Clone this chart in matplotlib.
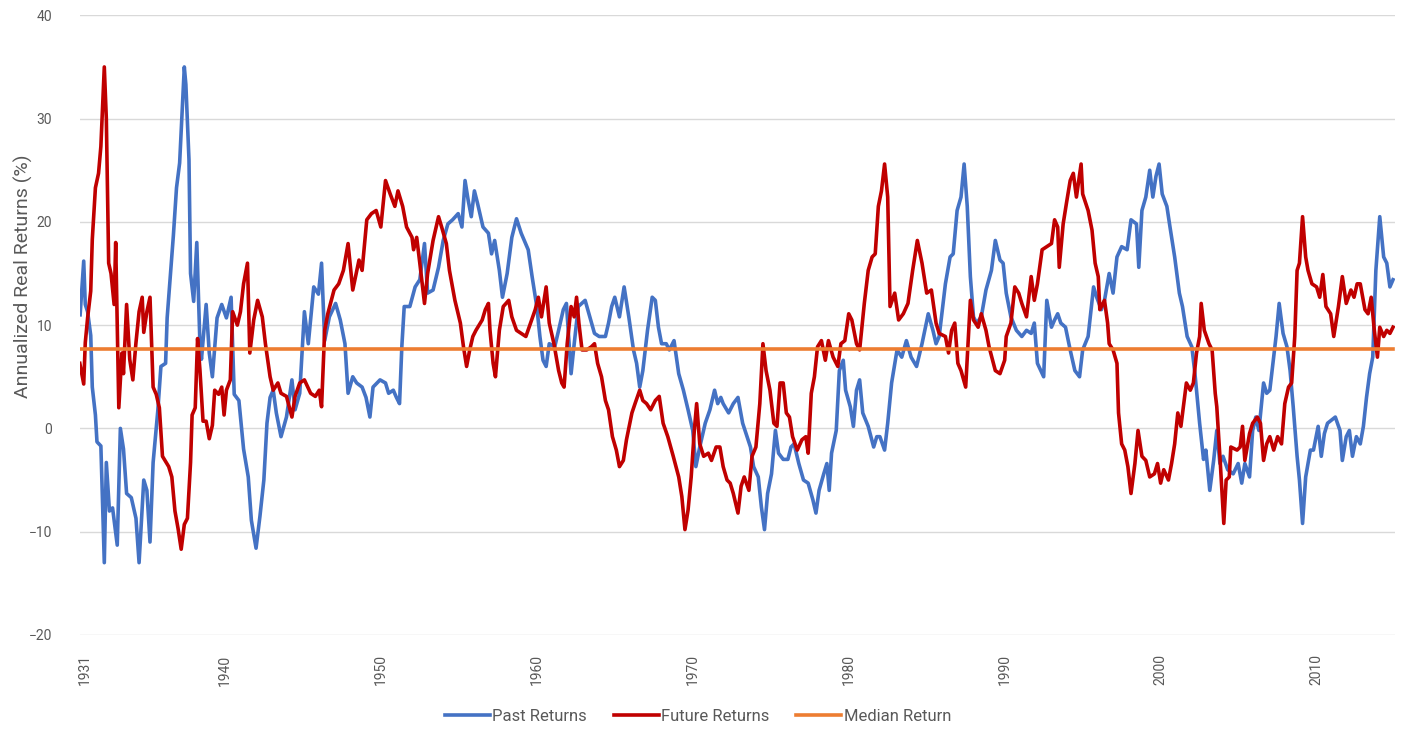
import matplotlib
matplotlib.use("Agg")
import matplotlib.pyplot as plt

plt.rcParams['font.family'] = ['Roboto', 'DejaVu Sans']

# past (trailing) annualized real returns
past_years = [
    1930.72, 1930.95, 1931.05, 1931.2, 1931.4, 1931.5, 1931.7, 1931.8, 1932.05, 1932.27,
    1932.4, 1932.6, 1932.8, 1933.1, 1933.3, 1933.5, 1933.7, 1934.0, 1934.3, 1934.5,
    1934.8, 1935.0, 1935.2, 1935.4, 1935.7, 1935.9, 1936.2, 1936.3, 1936.7, 1936.9,
    1937.1, 1937.4, 1937.5, 1937.7, 1937.8, 1938.0, 1938.2, 1938.4, 1938.5, 1938.8,
    1939.0, 1939.2, 1939.5, 1939.8, 1940.1, 1940.4, 1940.6, 1940.9, 1941.2, 1941.5,
    1941.7, 1942.0, 1942.25, 1942.5, 1942.7, 1942.9, 1943.1, 1943.3, 1943.6, 1943.95,
    1944.3, 1944.5, 1944.8, 1945.1, 1945.35, 1945.7, 1946.0, 1946.2, 1946.4, 1946.7,
    1947.1, 1947.4, 1947.7, 1947.9, 1948.2, 1948.45, 1948.8, 1949.05, 1949.3, 1949.5,
    1949.95, 1950.3, 1950.5, 1950.8, 1951.0, 1951.2, 1951.35, 1951.5, 1951.86, 1952.2,
    1952.5, 1952.8, 1953.0, 1953.35, 1953.7, 1954.0, 1954.3, 1954.6, 1954.96, 1955.2,
    1955.4, 1955.6, 1955.8, 1956.0, 1956.2, 1956.55, 1956.9, 1957.1, 1957.3, 1957.6,
    1957.8, 1958.1, 1958.4, 1958.7, 1959.0, 1959.45, 1959.7, 1960.0, 1960.2, 1960.4,
    1960.6, 1960.8, 1961.15, 1961.4, 1961.7, 1961.9, 1962.2, 1962.4, 1962.66, 1963.1,
    1963.4, 1963.7, 1964.0, 1964.4, 1964.6, 1964.8, 1965.0, 1965.3, 1965.6, 1965.9,
    1966.2, 1966.4, 1966.6, 1966.8, 1967.1, 1967.4, 1967.6, 1967.8, 1968.0, 1968.3,
    1968.5, 1968.8, 1969.1, 1969.4, 1969.7, 1970.0, 1970.2, 1970.45, 1970.8, 1971.1,
    1971.4, 1971.6, 1971.8, 1971.95, 1972.3, 1972.6, 1972.9, 1973.2, 1973.7, 1973.9,
    1974.2, 1974.4, 1974.6, 1974.8, 1975.05, 1975.3, 1975.5, 1975.8, 1976.1, 1976.3,
    1976.5, 1976.8, 1977.1, 1977.4, 1977.7, 1977.9, 1978.1, 1978.4, 1978.6, 1978.75,
    1978.9, 1979.2, 1979.4, 1979.65, 1979.8, 1980.1, 1980.3, 1980.5, 1980.7, 1980.9,
    1981.25, 1981.6, 1981.8, 1982.0, 1982.3, 1982.5, 1982.75, 1983.1, 1983.4, 1983.7,
    1984.0, 1984.35, 1984.7, 1985.1, 1985.4, 1985.6, 1985.8, 1986.2, 1986.5, 1986.7,
    1986.95, 1987.2, 1987.4, 1987.6, 1987.8, 1988.0, 1988.2, 1988.5, 1988.8, 1989.15,
    1989.4, 1989.7, 1989.9, 1990.1, 1990.4, 1990.75, 1991.1, 1991.4, 1991.7, 1991.9,
    1992.1, 1992.5, 1992.7, 1993.0, 1993.2, 1993.4, 1993.6, 1993.9, 1994.2, 1994.5,
    1994.8, 1995.0, 1995.35, 1995.7, 1995.9, 1996.2, 1996.4, 1996.7, 1996.95, 1997.2,
    1997.5, 1997.85, 1998.1, 1998.45, 1998.6, 1998.8, 1999.05, 1999.3, 1999.5, 1999.7,
    1999.9, 2000.1, 2000.4, 2000.6, 2000.9, 2001.2, 2001.4, 2001.7, 2002.0, 2002.2,
    2002.5, 2002.75, 2002.9, 2003.15, 2003.4, 2003.6, 2003.8, 2004.0, 2004.3, 2004.65,
    2004.97, 2005.2, 2005.4, 2005.7, 2005.9, 2006.1, 2006.3, 2006.6, 2006.8, 2007.0,
    2007.2, 2007.4, 2007.6, 2007.85, 2008.1, 2008.3, 2008.5, 2008.75, 2008.9, 2009.1,
    2009.3, 2009.6, 2009.8, 2010.1, 2010.3, 2010.5, 2010.7, 2010.95, 2011.2, 2011.5,
    2011.65, 2011.9, 2012.1, 2012.3, 2012.55, 2012.8, 2013.0, 2013.2, 2013.4, 2013.6,
    2013.8, 2014.05, 2014.3, 2014.5, 2014.7, 2014.9,
]
past_returns = [
    11, 16.2, 12, 11.3, 9, 4, 1.3, -1.3, -1.7, -13,
    -3.3, -8, -7.7, -11.3, 0, -2, -6.3, -6.7, -8.7, -13,
    -5, -6, -11, -3.3, 1.7, 6, 6.3, 10.7, 18.7, 23.3,
    25.7, 35, 33.3, 26, 15, 12.3, 18, 8.3, 6.7, 12,
    7.3, 5, 10.7, 12, 10.7, 12.7, 3.3, 2.7, -2, -4.7,
    -8.9, -11.6, -8.5, -5, 0.5, 3, 3.7, 1.5, -0.8, 1.1,
    4.7, 1.8, 3.4, 11.3, 8.2, 13.7, 13, 16, 8.5, 10.8,
    12.1, 10.5, 8.2, 3.4, 5, 4.4, 4, 3, 1.1, 4,
    4.7, 4.4, 3.4, 3.7, 3, 2.4, 8, 11.8, 11.8, 13.7,
    14.4, 17.9, 13.1, 13.4, 15.6, 18.2, 19.8, 20.2, 20.8, 19.5,
    24, 22.1, 20.5, 23, 21.8, 19.5, 18.9, 16.9, 18.2, 15.3,
    12.7, 15, 18.5, 20.3, 18.9, 17.3, 14.7, 11.8, 8.9, 6.6,
    6, 8.2, 7.9, 9.5, 11.5, 12.1, 5.3, 8.2, 11.8, 12.4,
    10.8, 9.2, 8.9, 8.9, 10.2, 11.8, 12.7, 10.8, 13.7, 10.8,
    7.6, 6.3, 4, 5.6, 9.5, 12.7, 12.4, 9.8, 8.2, 8.2,
    7.6, 8.5, 5.3, 3.7, 1.8, -0.2, -3.7, -1.8, 0.5, 1.8,
    3.7, 2.4, 3.0, 2.4, 1.5, 2.4, 3, 0.5, -1.8, -3.7,
    -4.7, -7.6, -9.8, -6.3, -4.4, -0.2, -2.4, -3, -3, -1.8,
    -1.5, -3.4, -5, -5.3, -6.9, -8.2, -6, -4.4, -3.4, -6,
    -2.4, -0.2, 5.6, 6.6, 3.7, 2.1, 0.2, 3.7, 4.7, 1.5,
    0.2, -1.8, -0.8, -0.8, -2.1, 0.5, 4.4, 7.6, 6.9, 8.5,
    6.9, 6, 8.2, 11.1, 9.5, 8.2, 8.9, 14, 16.6, 16.9,
    21.1, 22.4, 25.6, 21.5, 14.7, 10.8, 10.2, 10.8, 13.4, 15.3,
    18.2, 16.3, 16, 13.1, 10.8, 9.5, 8.9, 9.5, 9.2, 10.2,
    6.3, 5, 12.4, 9.8, 10.5, 11.1, 10.2, 9.8, 7.6, 5.6,
    5, 7.6, 8.9, 13.7, 12.7, 11.5, 12.4, 15, 13.1, 16.6,
    17.6, 17.3, 20.2, 19.8, 15.6, 21.1, 22.4, 25, 22.4, 24.4,
    25.6, 22.7, 21.5, 19.5, 16.6, 13.1, 11.8, 8.9, 7.9, 5.3,
    0.5, -3.0, -2.1, -6, -3.1, -0.2, -3.4, -2.7, -4, -4.4,
    -3.4, -5.3, -3.4, -4.7, -0.2, 1.1, -0.2, 4.4, 3.4, 3.7,
    6.3, 8.9, 12.1, 9.2, 7.9, 5.6, 2.1, -2.7, -5, -9.2,
    -4.7, -2.1, -2.1, 0.2, -2.7, -0.5, 0.5, 0.8, 1.1, -0.2,
    -3.1, -0.8, -0.2, -2.7, -0.8, -1.5, 0.2, 3, 5.3, 6.9,
    15.3, 20.5, 16.6, 16, 13.7, 14.4,
]

# future (forward) annualized real returns
future_years = [
    1930.7, 1930.95, 1931.05, 1931.2, 1931.4, 1931.5, 1931.7, 1931.9, 1932.05, 1932.27,
    1932.4, 1932.55, 1932.7, 1932.9, 1933.0, 1933.2, 1933.4, 1933.5, 1933.7, 1933.9,
    1934.1, 1934.3, 1934.5, 1934.7, 1934.8, 1935.0, 1935.2, 1935.4, 1935.6, 1935.8,
    1936.0, 1936.4, 1936.6, 1936.8, 1937.0, 1937.2, 1937.4, 1937.6, 1937.8, 1937.9,
    1938.1, 1938.25, 1938.4, 1938.6, 1938.8, 1939.0, 1939.2, 1939.35, 1939.6, 1939.8,
    1939.95, 1940.1, 1940.35, 1940.5, 1940.8, 1941.0, 1941.2, 1941.45, 1941.6, 1941.85,
    1942.1, 1942.4, 1942.6, 1942.9, 1943.1, 1943.4, 1943.6, 1943.95, 1944.3, 1944.5,
    1944.8, 1945.1, 1945.5, 1945.8, 1946.05, 1946.2, 1946.4, 1946.6, 1947.0, 1947.3,
    1947.6, 1947.9, 1948.2, 1948.6, 1948.8, 1949.1, 1949.4, 1949.7, 1950.0, 1950.3,
    1950.6, 1950.9, 1951.1, 1951.4, 1951.65, 1952.0, 1952.1, 1952.3, 1952.5, 1952.8,
    1953.0, 1953.35, 1953.7, 1953.9, 1954.2, 1954.4, 1954.75, 1955.1, 1955.3, 1955.5,
    1955.7, 1955.9, 1956.1, 1956.5, 1956.7, 1956.9, 1957.0, 1957.2, 1957.35, 1957.6,
    1957.85, 1958.2, 1958.4, 1958.7, 1959.0, 1959.3, 1959.6, 1959.9, 1960.1, 1960.3,
    1960.6, 1960.8, 1961.1, 1961.4, 1961.6, 1961.75, 1961.95, 1962.2, 1962.4, 1962.55,
    1962.7, 1962.9, 1963.2, 1963.5, 1963.7, 1963.9, 1964.15, 1964.4, 1964.6, 1964.85,
    1965.1, 1965.3, 1965.55, 1965.75, 1966.1, 1966.3, 1966.6, 1966.8, 1967.04, 1967.3,
    1967.6, 1967.85, 1968.1, 1968.4, 1968.75, 1969.1, 1969.3, 1969.5, 1969.7, 1969.9,
    1970.1, 1970.25, 1970.45, 1970.7, 1971.0, 1971.2, 1971.5, 1971.74, 1971.95, 1972.2,
    1972.4, 1972.6, 1972.9, 1973.1, 1973.3, 1973.6, 1973.8, 1974.05, 1974.3, 1974.5,
    1974.7, 1974.95, 1975.2, 1975.4, 1975.6, 1975.8, 1976.0, 1976.2, 1976.4, 1976.7,
    1977.0, 1977.25, 1977.4, 1977.6, 1977.8, 1978.0, 1978.25, 1978.5, 1978.7, 1979.0,
    1979.3, 1979.5, 1979.75, 1980.0, 1980.2, 1980.5, 1980.7, 1981.0, 1981.25, 1981.5,
    1981.7, 1981.9, 1982.1, 1982.3, 1982.5, 1982.65, 1982.95, 1983.2, 1983.5, 1983.8,
    1984.1, 1984.4, 1984.7, 1985.0, 1985.3, 1985.6, 1985.8, 1986.2, 1986.4, 1986.6,
    1986.8, 1987.0, 1987.2, 1987.5, 1987.65, 1987.8, 1988.0, 1988.3, 1988.5, 1988.8,
    1989.0, 1989.4, 1989.7, 1990.0, 1990.1, 1990.4, 1990.65, 1990.9, 1991.1, 1991.4,
    1991.7, 1991.9, 1992.1, 1992.4, 1992.7, 1993.0, 1993.2, 1993.4, 1993.5, 1993.75,
    1993.96, 1994.2, 1994.4, 1994.6, 1994.9, 1995.0, 1995.35, 1995.6, 1995.8, 1996.0,
    1996.1, 1996.4, 1996.6, 1996.7, 1996.95, 1997.2, 1997.3, 1997.5, 1997.7, 1997.9,
    1998.1, 1998.35, 1998.55, 1998.8, 1999.05, 1999.3, 1999.6, 1999.8, 2000.0, 2000.2,
    2000.5, 2000.7, 2000.9, 2001.1, 2001.3, 2001.65, 2001.9, 2002.1, 2002.3, 2002.5,
    2002.6, 2002.8, 2003.1, 2003.3, 2003.5, 2003.6, 2003.8, 2003.96, 2004.05, 2004.2,
    2004.4, 2004.5, 2004.9, 2005.1, 2005.25, 2005.4, 2005.7, 2005.9, 2006.2, 2006.4,
    2006.6, 2006.8, 2007.0, 2007.25, 2007.5, 2007.75, 2007.96, 2008.2, 2008.4, 2008.6,
    2008.75, 2008.9, 2009.1, 2009.3, 2009.45, 2009.7, 2010.0, 2010.2, 2010.4, 2010.6,
    2010.9, 2011.1, 2011.4, 2011.65, 2011.9, 2012.2, 2012.4, 2012.6, 2012.8, 2013.1,
    2013.3, 2013.5, 2013.7, 2013.9, 2014.05, 2014.3, 2014.5, 2014.7, 2014.9,
]
future_returns = [
    6.3, 4.3, 8.3, 10.7, 13.3, 18.3, 23.3, 24.7, 27.3, 35,
    30, 16, 15, 12, 18, 2, 7.3, 5.3, 12, 6.7,
    4.7, 8.3, 11.3, 12.7, 9.3, 11.3, 12.7, 4, 3.3, 2,
    -2.7, -3.7, -4.7, -8, -9.7, -11.7, -9.3, -8.7, -3.3, 1.3,
    2, 8.7, 5.7, 0.7, 0.7, -1, 0.3, 3.7, 3.3, 4,
    1.3, 3.7, 4.7, 11.3, 10, 11.3, 14, 16, 7.3, 10.5,
    12.4, 10.8, 8.2, 5, 3.7, 4.4, 3.4, 3.1, 1.1, 3.1,
    4.4, 4.7, 3.4, 3.1, 3.7, 2.1, 9.5, 11.1, 13.4, 14,
    15.3, 17.9, 13.4, 16.3, 15.3, 20.2, 20.8, 21.1, 19.5, 24,
    22.7, 21.5, 23, 21.5, 19.5, 18.5, 17.3, 18.5, 16, 12.1,
    15, 18.2, 20.5, 19.5, 17.9, 15.3, 12.4, 10.2, 7.9, 6,
    7.6, 8.9, 9.5, 10.5, 11.5, 12.1, 9.5, 6.3, 5, 9.5,
    11.8, 12.4, 10.8, 9.5, 9.2, 8.9, 10.2, 11.5, 12.7, 10.8,
    13.7, 10.2, 8.2, 5.6, 4.4, 4.0, 8.2, 11.8, 10.8, 12.7,
    10.2, 7.6, 7.6, 7.9, 8.2, 6.3, 5, 2.7, 1.8, -0.8,
    -2.1, -3.7, -3.1, -1.1, 1.5, 2.4, 3.7, 2.7, 2.4, 1.8,
    2.7, 3.1, 0.5, -0.8, -2.7, -4.7, -6.6, -9.8, -7.9, -4.7,
    -0.2, 2.4, -1.5, -2.7, -2.4, -3.1, -1.8, -1.8, -3.7, -5,
    -5.3, -6.3, -8.2, -5.6, -4.7, -6, -2.7, -1.8, 2.4, 8.2,
    5.6, 3.7, 0.5, 0.2, 4.4, 4.4, 1.5, 1.1, -0.8, -2.1,
    -1.1, -0.8, -2.4, 3.4, 5, 7.9, 8.5, 6.6, 8.5, 6.9,
    6, 8.2, 8.5, 11.1, 10.5, 8.2, 7.6, 12.1, 15.3, 16.6,
    16.9, 21.5, 23, 25.6, 22.4, 11.8, 13.1, 10.5, 11.1, 12.1,
    15.3, 18.2, 16, 13.1, 13.4, 10.2, 9.2, 8.9, 7.3, 9.5,
    10.2, 6.3, 5.6, 4, 8.2, 12.4, 10.5, 9.8, 11.1, 9.5,
    7.9, 5.6, 5.3, 6.6, 8.9, 10.2, 13.7, 13.1, 12.1, 10.8,
    14.7, 12.4, 14, 17.3, 17.6, 17.9, 20.2, 19.5, 15.6, 19.8,
    21.8, 24, 24.7, 22.4, 25.6, 22.7, 21.1, 19.2, 16, 14.7,
    11.5, 12.4, 10.2, 8.2, 7.6, 6.3, 1.5, -1.5, -2.1, -3.7,
    -6.3, -3.4, -0.2, -2.7, -3.1, -4.7, -4.4, -3.4, -5.3, -4,
    -5, -3.4, -1.5, 1.5, 0.2, 4.4, 3.7, 4.4, 7.3, 8.9,
    12.1, 9.5, 8.2, 7.6, 3.4, 2.1, -2.7, -6.9, -9.2, -5,
    -4.7, -1.8, -2.1, -1.8, 0.2, -3.1, -0.5, 0.5, 1.1, 0.5,
    -3.1, -1.5, -0.8, -2.1, -0.8, -1.5, 2.4, 4, 4.4, 8.9,
    15.3, 16, 20.5, 16.6, 15.3, 14, 13.7, 12.7, 14.9, 11.8,
    11.1, 8.9, 11.8, 14.7, 12.1, 13.4, 12.7, 14, 14, 11.5,
    11.1, 12.7, 9.5, 6.9, 9.8, 8.9, 9.5, 9.2, 9.8,
]

median_return = 7.7
year_ticks = [1931, 1940, 1950, 1960, 1970, 1980, 1990, 2000, 2010]
y_ticks = [-20, -10, 0, 10, 20, 30, 40]

fig = plt.figure(figsize=(14.03, 7.29), dpi=100)
ax = fig.add_axes([0.057, 0.129, 0.937, 0.85])

ax.plot(past_years, past_returns, color='#4472C4', lw=2.6, label='Past Returns')
ax.plot(future_years, future_returns, color='#C00000', lw=2.6, label='Future Returns')
ax.plot([past_years[0], past_years[-1]], [median_return, median_return],
        color='#ED7D31', lw=2.6, label='Median Return')

ax.set_xlim(1930.71, 2015.0)
ax.set_ylim(-20, 40)
ax.set_yticks(y_ticks)
ax.set_xticks(year_ticks)
ax.set_xticklabels([str(y) for y in year_ticks], rotation=90)
ax.grid(axis='y', color='#D9D9D9', lw=1)
ax.set_axisbelow(True)
for s in ax.spines.values():
    s.set_visible(False)
ax.tick_params(axis='both', length=0, colors='#595959', labelsize=10)
ax.tick_params(axis='y', pad=20)
ax.tick_params(axis='x', pad=14)
ax.set_ylabel('Annualized Real Returns (%)', color='#595959', fontsize=14)
ax.yaxis.set_label_coords(-0.036, 0.579)

ax.legend(loc='center', bbox_to_anchor=(0.47, -0.132), ncol=3, frameon=False,
          fontsize=12, labelcolor='#595959', handlelength=2.7, handletextpad=0.15,
          columnspacing=1.6)

fig.savefig('out.png', dpi=100)
